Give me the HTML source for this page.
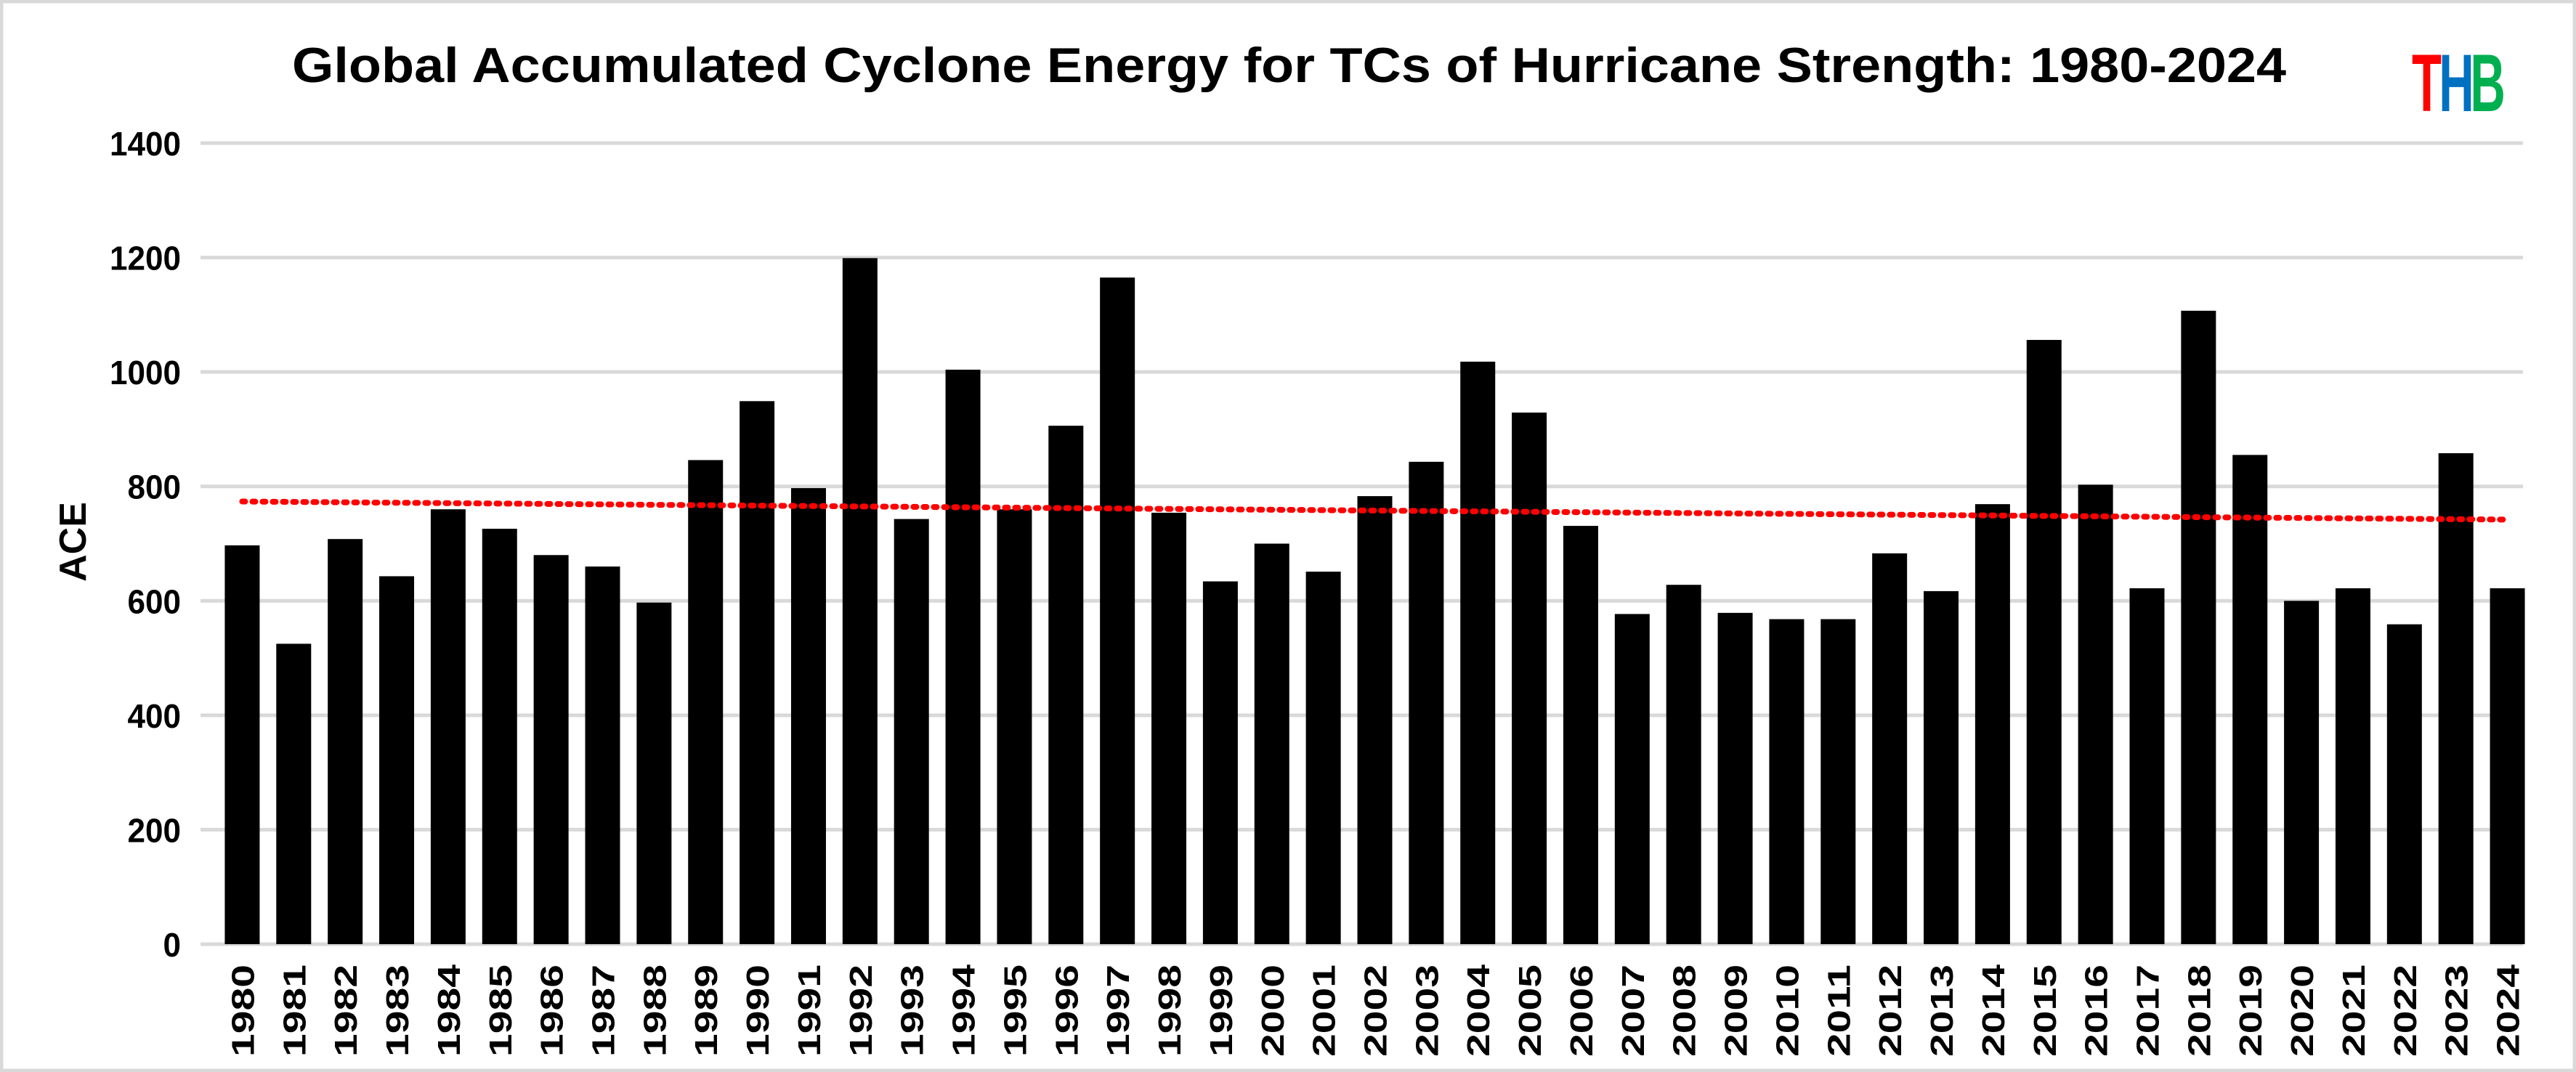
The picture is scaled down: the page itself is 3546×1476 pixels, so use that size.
<!DOCTYPE html>
<html><head><meta charset="utf-8"><style>
html,body{margin:0;padding:0;background:#fff;}
svg{display:block;}
text{font-family:"Liberation Sans",sans-serif;font-weight:bold;fill:#000;}
</style></head><body>
<svg id="chart" width="3546" height="1476" viewBox="0 0 3546 1476" xmlns="http://www.w3.org/2000/svg">
<rect x="2" y="2" width="3542" height="1472" fill="#fff" stroke="#d9d9d9" stroke-width="5"/>
<text x="402" y="113" font-size="68" textLength="2745" lengthAdjust="spacingAndGlyphs">Global Accumulated Cyclone Energy for TCs of Hurricane Strength: 1980-2024</text>
<g transform="translate(3320,153) scale(0.6,1)">
<text x="0" y="0" font-size="112" style="fill:#ff0000">T</text>
<text x="62" y="0" font-size="112" style="fill:#0070c0">H</text>
<text x="134" y="0" font-size="112" style="fill:#00b050">B</text>
</g>
<text transform="translate(118,746) rotate(-90)" font-size="52" text-anchor="middle">ACE</text>
<g id="grid"></g><g id="bars"></g><g id="xlabels"></g><g id="ylabels"></g><g id="trend"></g>
</svg>
<script>
const years = [1980,1981,1982,1983,1984,1985,1986,1987,1988,1989,1990,1991,1992,1993,1994,1995,1996,1997,1998,1999,2000,2001,2002,2003,2004,2005,2006,2007,2008,2009,2010,2011,2012,2013,2014,2015,2016,2017,2018,2019,2020,2021,2022,2023,2024];
const aceValues = [697,525,708,643,760,726,680,660,597,846,949,797,1199,743,1004,760,906,1165,754,634,700,651,783,843,1018,929,731,577,628,579,568,568,683,617,769,1056,803,622,1107,855,600,622,559,858,622];
const yTicks = [0,200,400,600,800,1000,1200,1400];

const NS = "http://www.w3.org/2000/svg";
const gridL = 276, gridR = 3473;
const plotL = 298, plotR = 3487, y0 = 1300, yTop = 197, yMax = 1400;
const step = (plotR - plotL) / years.length;
const barW = 48;
function yScale(v){ return y0 - (v / yMax) * (y0 - yTop); }
function xCenter(i){ return plotL + step * (i + 0.5); }
function mk(tag, attrs){ const e = document.createElementNS(NS, tag); for (const k in attrs) e.setAttribute(k, attrs[k]); return e; }

const grid = document.getElementById('grid');
const ylab = document.getElementById('ylabels');
yTicks.forEach(t => {
  const ln = mk('line', {x1: gridL, x2: gridR, y1: yScale(t), y2: yScale(t), stroke: '#d9d9d9', 'stroke-width': 5});
  
  
  grid.appendChild(ln);
  const s = String(t);
  const tx = mk('text', {x: 249 - s.length * 24.5, y: yScale(t) + 17, 'font-size': 46, textLength: s.length * 24.5, lengthAdjust: 'spacingAndGlyphs'});
  tx.textContent = s;
  
  
  ylab.appendChild(tx);
});

const bars = document.getElementById('bars');
const xl = document.getElementById('xlabels');
years.forEach((yr, i) => {
  const v = aceValues[i];
  const r = mk('rect', {x: xCenter(i) - barW / 2, y: yScale(v), width: barW, height: y0 - yScale(v), fill: '#000'});
  
  
  bars.appendChild(r);
  const tx = mk('text', {transform: 'translate(' + (xCenter(i) + 16) + ',1455) rotate(-90)', 'font-size': 44, textLength: 127, lengthAdjust: 'spacingAndGlyphs'});
  tx.textContent = yr;
  
  
  xl.appendChild(tx);
});

const n = aceValues.length;
let sx = 0, sy = 0, sxy = 0, sxx = 0;
aceValues.forEach((v, i) => { sx += i; sy += v; sxy += i * v; sxx += i * i; });
const slope = (n * sxy - sx * sy) / (n * sxx - sx * sx);
const icpt = (sy - slope * sx) / n;
const tl = mk('line', {x1: xCenter(0), y1: yScale(icpt), x2: xCenter(n - 1), y2: yScale(icpt + slope * (n - 1)), stroke: '#ff0000', 'stroke-width': 8, 'stroke-dasharray': '4 10', 'stroke-linecap': 'round'});


document.getElementById('trend').appendChild(tl);
</script>
</body></html>
